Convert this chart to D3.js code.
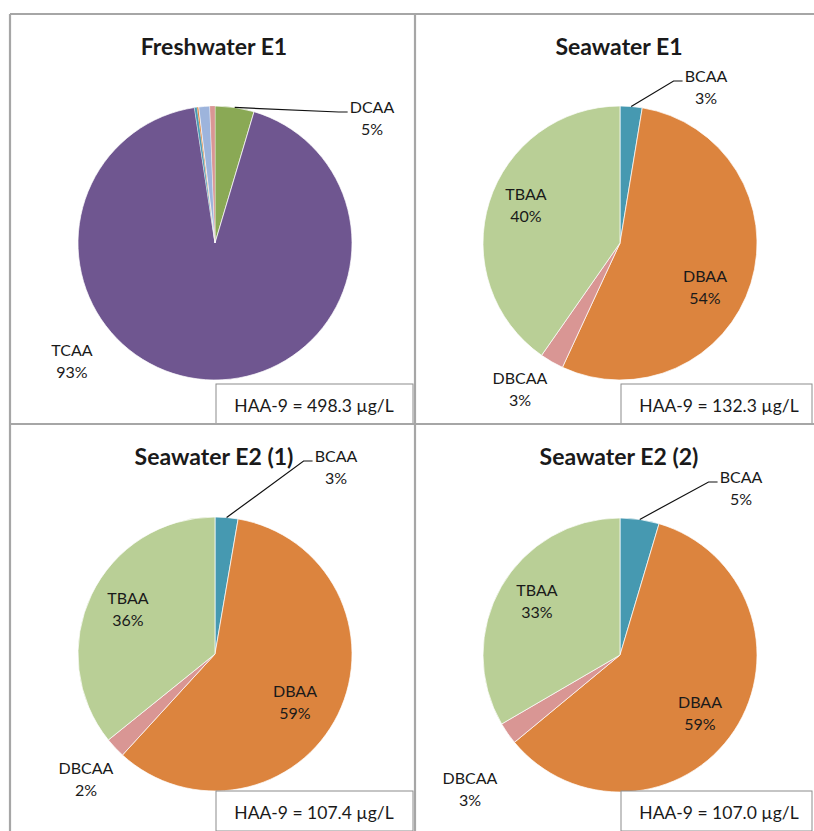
<!DOCTYPE html>
<html>
<head>
<meta charset="utf-8">
<script src="https://cdn.jsdelivr.net/npm/d3@7"></script>
<style>
  body { margin:0; background:#fff; }
  svg text { font-family: Lato, "Open Sans", sans-serif; fill:#1a1a1a; }
</style>
</head>
<body>
<div id="chart"></div>
<script>
// HAA species, in the order of the series
const species = ["MCAA","MBAA","DCAA","TCAA","BCAA","DBAA","BDCAA","DBCAA","TBAA"];
const speciesColors = ["#4f81bd","#c0504d","#8aa955","#6f5690","#4699b1","#dc843e","#9db4dc","#d99694","#b9cf96"];

// percent share of HAA-9
const freshwaterE1 = [0, 0, 4.6, 93.0, 0.3, 0.2, 1.3, 0.6, 0];
const seawaterE1   = [0, 0, 0, 0, 2.6, 54.3, 0, 2.8, 40.3];
const seawaterE2a  = [0, 0, 0, 0, 2.7, 59.1, 0, 2.4, 35.8];
const seawaterE2b  = [0, 0, 0, 0, 4.6, 59.4, 0, 2.6, 33.4];

const titles = ["Freshwater E1","Seawater E1","Seawater E2 (1)","Seawater E2 (2)"];
const totals = [498.3, 132.3, 107.4, 107.0];
// which species get a label in each panel
const labelled = [["DCAA","TCAA"],["BCAA","TBAA","DBAA","DBCAA"],["BCAA","TBAA","DBAA","DBCAA"],["BCAA","TBAA","DBAA","DBCAA"]];

// label placement (offset of label centre from pie centre), third item = leader line
const labelPos = [
  {DCAA:[157,-126,true], TCAA:[-143,117]},
  {BCAA:[86,-157,true], TBAA:[-94,-39], DBAA:[85,43], DBCAA:[-100,145]},
  {BCAA:[121,-188,true], TBAA:[-87,-46], DBAA:[80,47], DBCAA:[-129,124]},
  {BCAA:[121,-168,true], TBAA:[-83,-55], DBAA:[80,57], DBCAA:[-150,133]}
];

const allData = [freshwaterE1, seawaterE1, seawaterE2a, seawaterE2b];

const W = 814, H = 831;
const svg = d3.select("#chart").append("svg").attr("width", W).attr("height", H);

const gridX = [10, 415], gridY = [14, 424];
const cells = [
  {x:10,  y:14,  w:405, h:410},
  {x:415, y:14,  w:399, h:410},
  {x:10,  y:424, w:405, h:407},
  {x:415, y:424, w:399, h:407}
];
const centers = [[215,243],[620,243],[215,654],[620,655]];
const R = 137;

const pie = d3.pie().sort(null).value(d => d.v);
const arc = d3.arc().innerRadius(0).outerRadius(R);
const fmt = v => Math.round(v) + "%";

allData.forEach(function(vals, p){
  const [cx, cy] = centers[p];
  const c = cells[p];
  const g = svg.append("g").attr("transform", "translate(" + cx + "," + cy + ")");
  const rows = species.map((s,i) => ({s:s, v:vals[i], color:speciesColors[i]}));
  const arcs = pie(rows);

  g.selectAll("path").data(arcs.filter(d => d.data.v > 0))
    .enter().append("path")
      .attr("d", arc)
      .attr("fill", d => d.data.color)
      .attr("stroke", "#fff")
      .attr("stroke-width", d => d.data.v < 1 ? 0.2 : 0.7);

  // title
  svg.append("text")
    .attr("x", cx - 1).attr("y", c.y + 41)
    .attr("text-anchor", "middle")
    .style("font-weight", "bold").style("font-size", "23px")
    .text(titles[p]);

  // labels
  labelled[p].forEach(function(s){
    const a = arcs.find(d => d.data.s == s);
    const pos = labelPos[p][s];
    const lx = pos[0], ly = pos[1];
    const t = g.append("text")
      .attr("text-anchor", "middle")
      .style("font-size", "16px");
    t.append("tspan").attr("x", lx).attr("y", ly - 4).text(s);
    t.append("tspan").attr("x", lx).attr("y", ly + 18).text(fmt(a.data.v));
    if(pos[2]){
      const bw = t.node().getBBox().width;
      const mid = (a.startAngle + a.endAngle) / 2;
      const px = Math.sin(mid) * R, py = -Math.cos(mid) * R;
      const ex = lx - bw/2 - 2, ey = ly - 5;
      g.append("polyline")
        .attr("points", [[px,py],[ex-9,ey],[ex,ey]].map(q => q.join(",")).join(" "))
        .attr("fill", "none").attr("stroke", "#111").attr("stroke-width", 1.2);
    }
  });

  // HAA-9 box, down to the panel edge
  const bx = cx + 1, by = c.y + c.h - 40, bwid = c.x + c.w - bx;
  svg.append("rect")
    .attr("x", bx).attr("y", by).attr("width", bwid - 2).attr("height", c.y + c.h - by)
    .attr("fill", "#fff").attr("stroke", "#8c8c8c").attr("stroke-width", 1);
  svg.append("text")
    .attr("x", bx + 98).attr("y", by + 28)
    .attr("text-anchor", "middle").style("font-size", "17.5px")
    .text("HAA-9 = " + totals[p].toFixed(1) + " µg/L");
});

// panel grid
const grid = svg.append("g").attr("stroke", "#a6a6a6").attr("stroke-width", 2.2);
grid.append("line").attr("x1", gridX[0]).attr("x2", W).attr("y1", gridY[0]).attr("y2", gridY[0]);
grid.append("line").attr("x1", gridX[0]).attr("x2", W).attr("y1", gridY[1]).attr("y2", gridY[1]);
grid.append("line").attr("x1", gridX[0]).attr("x2", gridX[0]).attr("y1", gridY[0]).attr("y2", H);
grid.append("line").attr("x1", gridX[1]).attr("x2", gridX[1]).attr("y1", gridY[0]).attr("y2", H);
</script>
</body>
</html>
